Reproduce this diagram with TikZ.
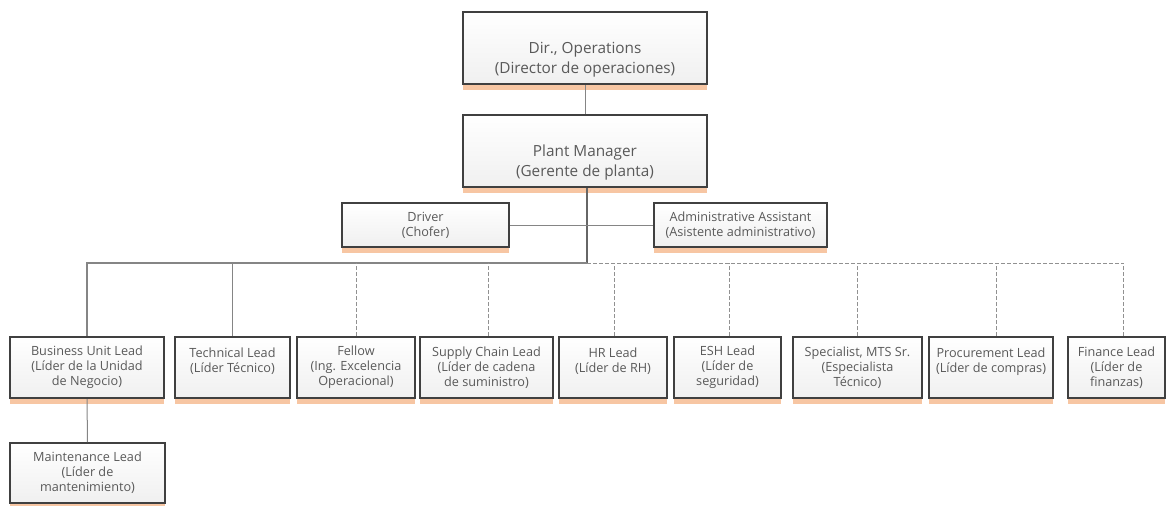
\documentclass[tikz,border=0pt]{standalone}
\usepackage{fontspec}
\setmainfont{Open Sans}
\usetikzlibrary{shadows}
\definecolor{glow}{HTML}{F7C6A3}
\definecolor{ink}{HTML}{595959}
\definecolor{linegray}{HTML}{858585}

\begin{document}
\begin{tikzpicture}[x=0.75pt,y=-0.75pt,
  box/.style={draw=black!75,line width=1.5pt,top color=white,bottom color=black!6,
    drop shadow={shadow xshift=0pt,shadow yshift=-4.5pt,fill=glow,opacity=1},
    text=ink,align=center,inner sep=0pt,font=\fontsize{9.5}{11.25}\selectfont},
  bigbox/.style={box,minimum width=183pt,minimum height=54pt,text height=40pt,
    font=\fontsize{11.5}{15}\selectfont},
  sub/.style={box,minimum height=45.75pt},
  link/.style={draw=linegray,line width=0.75pt},
  trunk/.style={draw=black!60,line width=1.5pt},
  dlink/.style={draw=linegray!90,line width=0.75pt,dash pattern=on 3pt off 1.5pt}]
\useasboundingbox (0,0) rectangle (1167,506);
\coordinate (bus) at (587,263);

\node[bigbox] (dir) at (585,48.5) {Dir., Operations\\(Director de operaciones)};
\node[bigbox] (pm) at (585,151.5) {Plant Manager\\(Gerente de planta)};
\node[box,minimum width=125.25pt,minimum height=33pt] (drv) at (425.5,225) {Driver\\(Chofer)};
\node[box,minimum width=129.75pt,minimum height=33pt] (adm) at (740.5,225) {Administrative Assistant\\(Asistente administrativo)};

\node[sub,minimum width=115.5pt] (bu) at (87,367.5) {Business Unit Lead\\(Líder de la Unidad\\de Negocio)};
\node[sub,minimum width=86.25pt] (tec) at (232.5,367.5) {Technical Lead\\(Líder Técnico)\\\mbox{}};
\node[sub,minimum width=88.5pt] (fel) at (356,367.5) {Fellow\\(Ing. Excelencia\\Operacional)};
\node[sub,minimum width=99.75pt] (sup) at (486.5,367.5) {Supply Chain Lead\\(Líder de cadena\\de suministro)};
\node[sub,minimum width=81pt] (hr) at (613,367.5) {HR Lead\\(Líder de RH)\\\mbox{}};
\node[sub,minimum width=80.25pt] (esh) at (727.5,367.5) {ESH Lead\\(Líder de\\seguridad)};
\node[sub,minimum width=96.75pt] (spe) at (857.5,367.5) {Specialist, MTS Sr.\\(Especialista\\Técnico)};
\node[sub,minimum width=93pt] (pro) at (991,367.5) {Procurement Lead\\(Líder de compras)\\\mbox{}};
\node[sub,minimum width=72.75pt] (fin) at (1116.5,367.5) {Finance Lead\\(Líder de\\finanzas)};
\node[sub,minimum width=116.25pt,minimum height=45pt] (mnt) at (87.5,473) {Maintenance Lead\\(Líder de\\mantenimiento)};

\draw[link] (dir) -- (pm);
\draw[trunk] (pm.south -| bus) -- (bus);
\draw[link] (drv) -- (adm);
\draw[link,line width=1.1pt] (bus) -| (bu);
\draw[link] (bus) -| (tec);
\draw[dlink] (bus) -- ([xshift=4.875pt]fin.north |- bus);
\foreach \n/\sh in {fel/0,sup/1.5,hr/1,esh/1.5,spe/-0.5,pro/5,fin/6.5}
  \draw[dlink] ([xshift=\sh*0.75pt]\n.north) -- ([xshift=\sh*0.75pt]\n.north |- bus);
\draw[link] (bu) -- (mnt);
\end{tikzpicture}
\end{document}
